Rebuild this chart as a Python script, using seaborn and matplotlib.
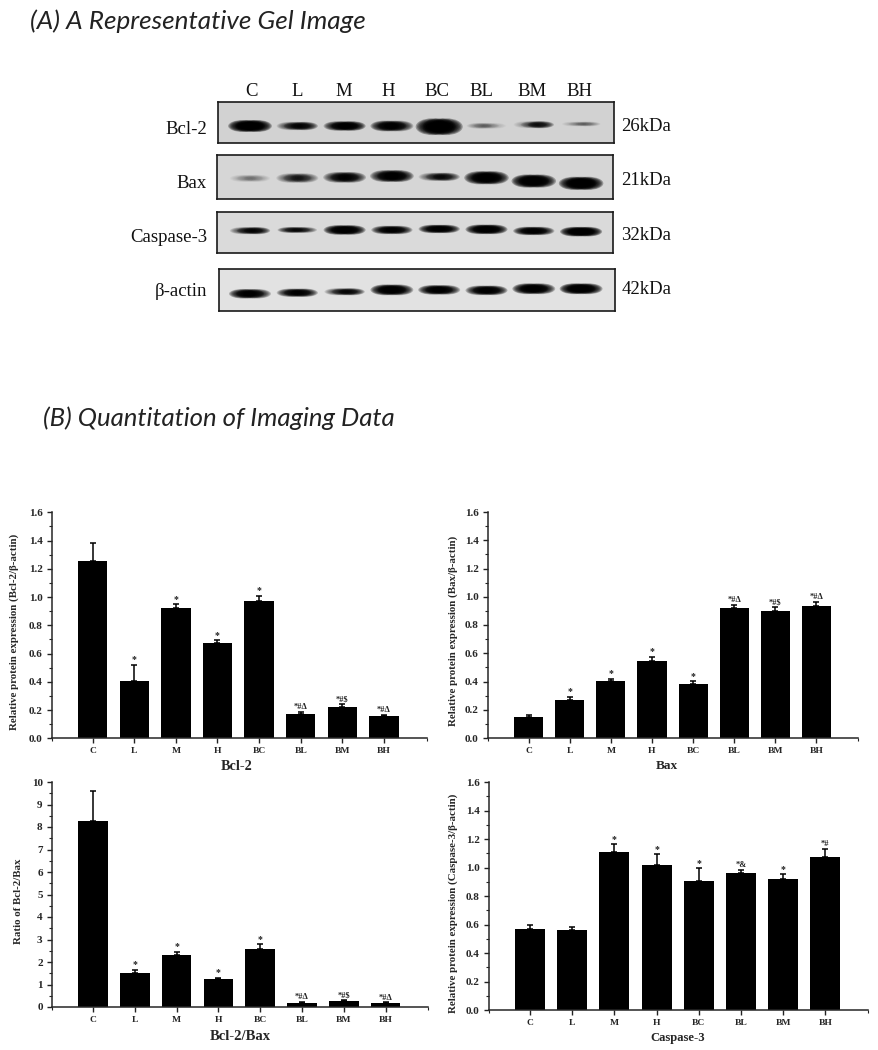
import matplotlib
matplotlib.use("Agg")
import matplotlib.pyplot as plt
import seaborn as sns
import pandas as pd
from matplotlib.patches import Ellipse

groups = ["C", "L", "M", "H", "BC", "BL", "BM", "BH"]

# bar heights and top of the error bars
bcl2_vals = [1.258, 0.405, 0.92, 0.677, 0.975, 0.175, 0.22, 0.16]
bcl2_tops = [1.38, 0.52, 0.948, 0.693, 1.01, 0.186, 0.243, 0.165]
bcl2_marks = ["", "*", "*", "*", "*", "*#Δ", "*#$", "*#Δ"]

bax_vals = [0.151, 0.272, 0.402, 0.544, 0.383, 0.922, 0.896, 0.938]
bax_tops = [0.165, 0.293, 0.418, 0.572, 0.402, 0.945, 0.924, 0.962]
bax_marks = ["", "*", "*", "*", "*", "*#Δ", "*#$", "*#Δ"]

ratio_vals = [8.27, 1.5, 2.31, 1.26, 2.56, 0.19, 0.27, 0.18]
ratio_tops = [9.61, 1.64, 2.46, 1.30, 2.79, 0.22, 0.30, 0.21]
ratio_marks = ["", "*", "*", "*", "*", "*#Δ", "*#$", "*#Δ"]

casp_vals = [0.572, 0.561, 1.107, 1.016, 0.909, 0.96, 0.92, 1.072]
casp_tops = [0.598, 0.584, 1.163, 1.093, 0.995, 0.986, 0.953, 1.133]
casp_marks = ["", "", "*", "*", "*", "*&", "*", "*#"]

# band darkness on the blots, left and right half of each lane
bcl2_left = [1.0, 0.6, 0.85, 0.9, 1.0, 0.42, 0.35, 0.28]
bcl2_right = [1.0, 0.85, 0.95, 0.8, 1.0, 0.25, 0.8, 0.42]
bax_left = [0.3, 0.55, 0.75, 0.85, 0.55, 0.95, 1.0, 1.0]
bax_right = [0.32, 0.6, 0.8, 0.9, 0.75, 0.95, 0.95, 1.0]
casp_left = [0.6, 0.75, 0.95, 0.85, 0.9, 0.95, 0.9, 1.0]
casp_right = [0.85, 0.65, 0.95, 0.85, 0.9, 0.95, 0.85, 1.0]
actin_left = [0.9, 0.8, 0.6, 0.95, 0.9, 0.85, 0.95, 1.0]
actin_right = [0.8, 0.85, 0.8, 0.9, 0.85, 0.9, 0.9, 0.95]

# band thickness and vertical drift per lane, pixels
bcl2_thick = [10, 7, 8, 9, 14, 5, 6, 4]
bax_thick = [6, 8, 9, 10, 7, 11, 11, 11]
casp_thick = [6, 5, 8, 7, 7, 8, 7, 8]
actin_thick = [8, 7, 6, 9, 8, 8, 9, 9]
bcl2_shift = [3.2, 3.2, 3.2, 3.2, 3.9, 3, 1.9, 1.2]
bax_shift = [1.5, 1.2, 0.5, -0.8, 0, 0.9, 4.2, 6.5]
casp_shift = [-2, -2.7, -2.7, -2.7, -3.7, -3.3, -1.7, -1]
actin_shift = [3.9, 2.9, 1.9, 0, 0, 0.5, -1.1, -1.1]

W, H = 879, 1050

sns.set_theme(style="ticks")
plt.rcParams["font.family"] = ["Liberation Serif", "DejaVu Sans"]

fig = plt.figure(figsize=(W / 100, H / 100), dpi=100)


def px_axes(left, top, right, bottom):
    return fig.add_axes([left / W, 1 - bottom / H, (right - left) / W, (bottom - top) / H])


def fig_text(x, y, s, **kw):
    fig.text(x / W, 1 - y / H, s, va="center", **kw)


def draw_blot(box, left_vals, right_vals, shifts, thick, bg, label, label_y, kda, kda_y):
    ax = px_axes(*box)
    lane_px = 47.3
    ax.set_xlim((box[0] - 250) / lane_px, (box[2] - 250) / lane_px)
    half = (box[3] - box[1]) / 2
    ax.set_ylim(half, -half)
    ax.set_facecolor(bg)
    ax.set_xticks([])
    ax.set_yticks([])
    for s in ax.spines.values():
        s.set_linewidth(1.2)
        s.set_color("#1a1a1a")
    for i in range(len(left_vals)):
        w = 24 + (thick[i] - 9) * 0.7
        mid = (left_vals[i] + right_vals[i]) / 2
        for side, dark in ((-1, left_vals[i]), (0, mid), (1, right_vals[i])):
            # stacked ellipses to get the soft edge of a band
            for scale in [1.2, 1.1, 1.0, 0.9, 0.8, 0.7, 0.6, 0.5]:
                ax.add_patch(Ellipse((i + side * 7 / lane_px, shifts[i]), w * scale / lane_px,
                                     thick[i] * scale, color="black",
                                     alpha=0.3 * dark ** 2, lw=0))
    fig_text(207, label_y, label, ha="right", fontsize=13.5, color="#111111")
    fig_text(621.5, kda_y, kda, ha="left", fontsize=13.5, color="#111111")


draw_blot((218, 102.3, 614, 143.3), bcl2_left, bcl2_right, bcl2_shift, bcl2_thick, "#d2d2d2",
          "Bcl-2", 129, "26kDa", 126.7)
draw_blot((216.7, 155, 612.7, 198.7), bax_left, bax_right, bax_shift, bax_thick, "#d6d6d6",
          "Bax", 183, "21kDa", 180.7)
draw_blot((216.7, 212, 612.7, 253.3), casp_left, casp_right, casp_shift, casp_thick, "#dadada",
          "Caspase-3", 238, "32kDa", 235)
draw_blot((218.7, 268.7, 615, 311), actin_left, actin_right, actin_shift, actin_thick, "#e2e2e2",
          "β-actin", 291.7, "42kDa", 289)

label_x = [251.7, 297.3, 344, 388, 436.7, 481.7, 531.7, 579.3]
for x, g in zip(label_x, groups):
    fig_text(x, 91, g, ha="center", fontsize=13.5, color="#111111")

fig_text(30, 21, "(A) A Representative Gel Image", family="Lato", style="italic", fontsize=18.8, color="#222222")
fig_text(43, 418, "(B) Quantitation of Imaging Data", family="Lato", style="italic", fontsize=18.5, color="#222222")


def draw_panel(box, first, spacing, vals, tops, marks, ymax, major, minor, ylabel, ylab_pos,
               xlabel, xlab_pos, xlabel_fs):
    ax = px_axes(*box)
    df = pd.DataFrame({"group": groups, "value": vals})
    sns.barplot(data=df, x="group", y="value", color="black", saturation=1, width=0.71,
                errorbar=None, edgecolor="black", linewidth=0, ax=ax)
    errs = [t - v for t, v in zip(tops, vals)]
    ax.errorbar(range(len(groups)), vals, yerr=[[0] * len(errs), errs], fmt="none",
                ecolor="black", elinewidth=1.1, capsize=2.2, capthick=1.1)
    xmin = (box[0] - first) / spacing
    xmax = (box[2] - first) / spacing
    ax.set_xlim(xmin, xmax)
    ax.set_ylim(0, ymax)
    ax.set_yticks(major)
    ax.set_yticks(minor, minor=True)
    ax.set_xticks([xmin, xmax], minor=True)
    ax.set_xticks(range(len(groups)))
    ax.set_xticklabels(groups, fontsize=6.8, fontweight="bold")
    ylabs = [f"{v:.1f}" if ymax < 5 else f"{v:d}" for v in major]
    ax.set_yticklabels(ylabs, fontsize=8, fontweight="bold")
    ax.tick_params(axis="both", which="major", length=3.5, width=1, pad=3, color="#222222")
    ax.tick_params(axis="both", which="minor", length=2, width=0.8, color="#222222")
    ax.spines["top"].set_visible(False)
    ax.spines["right"].set_visible(False)
    ax.spines["left"].set_linewidth(1.1)
    ax.spines["bottom"].set_linewidth(1.1)
    bw = box[2] - box[0]
    bh = box[3] - box[1]
    ax.set_ylabel(ylabel, fontsize=7.8, fontweight="bold")
    ax.yaxis.set_label_coords((ylab_pos[0] + 5 - box[0]) / bw, (box[3] - ylab_pos[1]) / bh)
    ax.set_xlabel(xlabel, fontsize=xlabel_fs, fontweight="bold")
    ax.xaxis.set_label_coords((xlab_pos[0] - box[0]) / bw, (box[3] - (xlab_pos[1] - 6)) / bh)
    for i, m in enumerate(marks):
        if m:
            ax.annotate(m, (i, tops[i]), xytext=(0, 0.5), textcoords="offset points",
                        ha="center", va="bottom", fontsize=7 if len(m) == 1 else 6,
                        fontweight="bold", color="#222222")


major16 = [0.0, 0.2, 0.4, 0.6, 0.8, 1.0, 1.2, 1.4, 1.6]
minor16 = [0.1, 0.3, 0.5, 0.7, 0.9, 1.1, 1.3, 1.5]

draw_panel((51.7, 512.3, 426.7, 738.3), 92.7, 41.6, bcl2_vals, bcl2_tops, bcl2_marks, 1.6,
           major16, minor16, "Relative protein expression (Bcl-2/β-actin)", (14, 632),
           "Bcl-2", (237, 765.7), 10.3)
draw_panel((487.7, 512, 858.3, 738), 528.7, 41.1, bax_vals, bax_tops, bax_marks, 1.6,
           major16, minor16, "Relative protein expression (Bax/β-actin)", (453, 631),
           "Bax", (667, 765.7), 9.6)
draw_panel((51.7, 782, 428, 1007), 93, 41.8, ratio_vals, ratio_tops, ratio_marks, 10,
           list(range(11)), [v + 0.5 for v in range(10)], "Ratio of Bcl-2/Bax", (18, 901),
           "Bcl-2/Bax", (240, 1036), 10.5)
draw_panel((488.7, 782, 868.3, 1010.3), 530, 42.2, casp_vals, casp_tops, casp_marks, 1.6,
           major16, minor16, "Relative protein expression (Caspase-3/β-actin)", (453, 903),
           "Caspase-3", (678, 1038), 9.1)

fig.savefig("out.png", dpi=100)
